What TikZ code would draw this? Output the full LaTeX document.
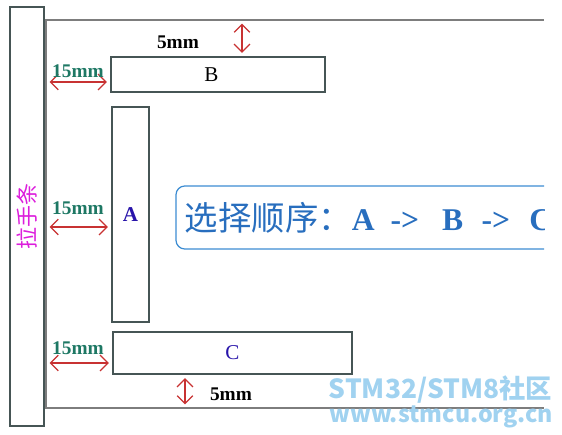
\documentclass[tikz,border=0pt]{standalone}
\usepackage{fontspec}
\setmainfont{Liberation Serif}
\newfontfamily\cjk{Noto Sans CJK SC}
\usetikzlibrary{arrows.meta}
\definecolor{framegray}{RGB}{125,125,125}
\definecolor{boxgray}{RGB}{70,85,85}
\definecolor{dimred}{RGB}{200,50,50}
\definecolor{dimteal}{RGB}{30,120,100}
\definecolor{strippink}{RGB}{220,30,220}
\definecolor{labelblue}{RGB}{40,20,170}
\definecolor{seqblue}{RGB}{60,140,210}
\definecolor{seqtext}{RGB}{40,110,190}
\definecolor{markblue}{RGB}{160,210,240}

\begin{document}
\begin{tikzpicture}[scale=0.2]
\tikzstyle{every node}+=[inner sep=0pt]
\tikzstyle{part}=[draw=boxgray, line width=0.8pt, rectangle]
\tikzstyle{dim}=[dimred, line width=0.7pt, {Straight Barb[length=4.5pt,width=9pt]}-{Straight Barb[length=4.5pt,width=9pt]}, shorten <=2pt, shorten >=2pt]
\tikzstyle{mmlabel}=[font=\bfseries\fontsize{11}{11}\selectfont]
\useasboundingbox (0,0) rectangle (56.2,-43.5);
% handle strip
\node [part, rotate=90, minimum width=8.38cm, minimum height=0.68cm, text=strippink, font=\cjk\fontsize{12.5}{12.5}\selectfont] (strip) at (2.7,-21.65) {拉手条};
% frame, open on the right
\coordinate (fTL) at (4.6,-2.0);
\coordinate (fTR) at (54.4,-2.0);
\coordinate (fBL) at (4.6,-40.8);
\coordinate (fBR) at (54.4,-40.8);
\draw [framegray, line width=0.8pt] (fTR) -- (fTL) -- (fBL) -- (fBR);
% parts
\node [part, minimum width=4.28cm, minimum height=0.70cm, font=\fontsize{12}{12}\selectfont] (B) at (21.8,-7.45) {\hspace*{-0.26cm}B};
\node [part, minimum width=0.74cm, minimum height=4.30cm, text=labelblue, font=\bfseries\fontsize{12}{12}\selectfont] (A) at (13.05,-21.45) {A};
\node [part, minimum width=4.78cm, minimum height=0.84cm, text=labelblue, font=\fontsize{12}{12}\selectfont] (C) at (23.25,-35.3) {C};
% gaps
\coordinate (t5) at (24.2,-2.0);
\draw [dim] (t5) -- (t5 |- B.north);
\draw (17.8,-4.2) node [mmlabel] (t5l) {5mm};
\coordinate (lB) at (4.6,-8.2);
\draw [dim] (lB) -- (lB -| B.west);
\draw (7.8,-7.1) node [mmlabel, text=dimteal] (lBl) {15mm};
\coordinate (lA) at (4.6,-22.7);
\draw [dim] (lA) -- (lA -| A.west);
\draw (7.8,-20.8) node [mmlabel, text=dimteal] (lAl) {15mm};
\coordinate (lC) at (4.6,-36.3);
\draw [dim] (lC) -- (lC -| C.west);
\draw (7.8,-34.8) node [mmlabel, text=dimteal] (lCl) {15mm};
\coordinate (b5) at (18.5,-40.8);
\draw [dim] (b5) -- (b5 |- C.south);
\draw (23.1,-39.4) node [mmlabel] (b5l) {5mm};
% order note, cut at the right edge
\begin{scope}
\clip (0,0) rectangle (54.4,-43.5);
\node [draw=seqblue, line width=0.7pt, rounded corners=5pt, minimum width=7.88cm, minimum height=1.26cm, text width=7.52cm, align=left, text=seqtext, font=\bfseries\fontsize{18}{18}\selectfont] (seq) at (37.3,-21.75) {{\cjk\mdseries\fontsize{19}{19}\selectfont 选择顺序：}\hspace{0pt}A\hspace{9pt}->\hspace{13pt}B\hspace{10.5pt}->\hspace{11pt}C};
\end{scope}
% watermark
\draw (44.05,-38.95) node [text=markblue, font=\cjk\bfseries\fontsize{15}{15}\selectfont] (wm1) {STM32/STM8社区};
\draw (44.15,-41.65) node [text=markblue, font=\cjk\bfseries\fontsize{13.2}{13.2}\selectfont] (wm2) {www.stmcu.org.cn};
\end{tikzpicture}
\end{document}
